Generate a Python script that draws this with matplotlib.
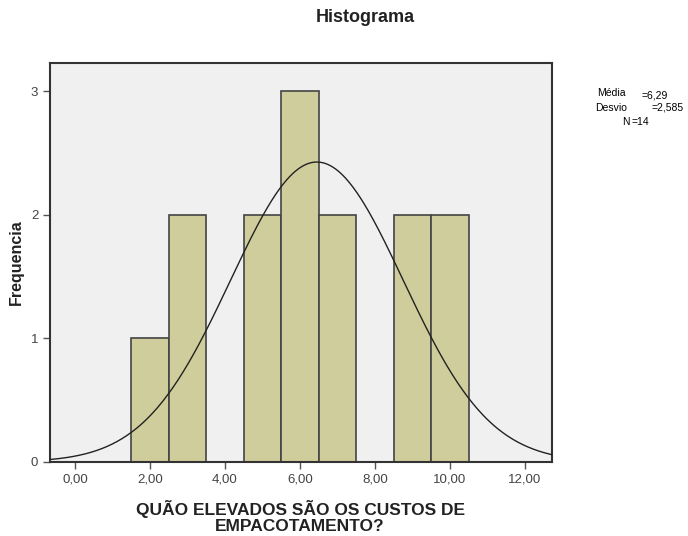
import matplotlib
matplotlib.use("Agg")
from matplotlib import pyplot as plt
import numpy as np

# histogram data
bin_centers = [2, 3, 5, 6, 7, 9, 10]
counts = [1, 2, 2, 3, 2, 2, 2]
bin_width = 1.0

# stats shown at the right
stat_labels = ["Média", "Desvio", "N"]
stat_values = ["=6,29", "=2,585", "=14"]

# fitted curve as drawn
curve_mean = 6.45
curve_sd = 2.3
n_total = 14

xticks = [0, 2, 4, 6, 8, 10, 12]
xticklabels = ["0,00", "2,00", "4,00", "6,00", "8,00", "10,00", "12,00"]
yticks = [0, 1, 2, 3]

plt.rcParams['font.family'] = ['Liberation Sans', 'DejaVu Sans']

fig = plt.figure(figsize=(6.88, 5.36), dpi=100)
ax = fig.add_axes([50/688, 1-462/536, (552-50)/688, (462-63)/536])
ax.set_facecolor("#f0f0f0")

ax.bar(bin_centers, counts, width=bin_width, color="#cfcd9c",
       edgecolor="#444444", linewidth=1.2, zorder=2)

xs = np.linspace(-0.667, 12.72, 400)
ys = n_total*bin_width/(curve_sd*np.sqrt(2*np.pi))*np.exp(-0.5*((xs-curve_mean)/curve_sd)**2)
ax.plot(xs, ys, color="#222222", linewidth=1.0, zorder=3)

ax.set_xlim(-0.667, 12.72)
ax.set_ylim(0, 3.23)
ax.set_xticks(xticks)
ax.set_xticklabels(xticklabels)
ax.set_yticks(yticks)
ax.tick_params(axis="both", direction="out", length=5, width=1, color="#555555",
               labelcolor="#444444", labelsize=9.5)
for s in ax.spines.values():
    s.set_color("#333333")
    s.set_linewidth(1.5)

ax.set_ylabel("Frequencia", fontsize=11.5, fontweight="bold", color="#222222", labelpad=5)
fig.text(300/688, 1-517/536, "QUÃO ELEVADOS SÃO OS CUSTOS DE\nEMPACOTAMENTO?",
         ha="center", va="center", fontsize=12.5, fontweight="bold", color="#222222",
         linespacing=1.15)
fig.text(365/688, 1-18/536, "Histograma", ha="center", va="center",
         fontsize=13, fontweight="bold", color="#222222")

# stats block
fig.text(611/688, 1-93/536, stat_labels[0], ha="center", va="center", fontsize=7.5)
fig.text(642/688, 1-95/536, stat_values[0], ha="left", va="center", fontsize=7.5)
fig.text(611/688, 1-108/536, stat_labels[1], ha="center", va="center", fontsize=7.5)
fig.text(652/688, 1-108/536, stat_values[1], ha="left", va="center", fontsize=7.5)
fig.text(622/688, 1-122/536, stat_labels[2], ha="left", va="center", fontsize=7.5)
fig.text(632/688, 1-122/536, stat_values[2], ha="left", va="center", fontsize=7.5)

plt.savefig("out.png", dpi=100)
